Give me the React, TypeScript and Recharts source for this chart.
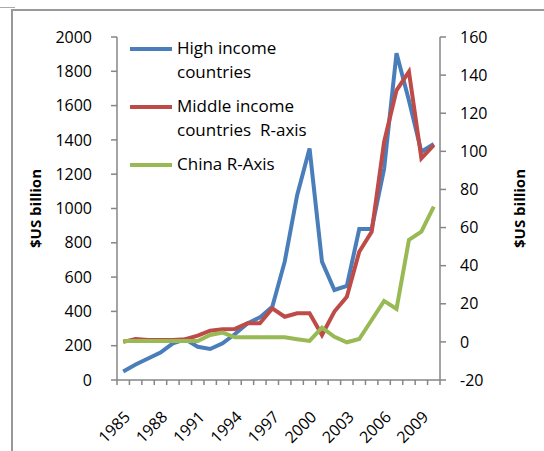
import { LineChart, Line, XAxis, YAxis } from 'recharts'

const years = [1985, 1986, 1987, 1988, 1989, 1990, 1991, 1992, 1993, 1994, 1995, 1996, 1997,
  1998, 1999, 2000, 2001, 2002, 2003, 2004, 2005, 2006, 2007, 2008, 2009, 2010]
const highIncome = [50, 90, 125, 160, 214, 237, 194, 181, 214, 268, 330, 365, 427,
  690, 1078, 1350, 690, 525, 548, 880, 880, 1230, 1905, 1630, 1331, 1376]
const middleIncome = [0, 1.5, 1, 1, 1, 1.4, 3.3, 5.9, 6.6, 6.8, 9.8, 9.8, 17.6,
  13.2, 15, 15, 3.6, 15.9, 23.7, 47.3, 57.8, 105, 132, 141.8, 96.3, 103.3]
const china = [0.5, 0.5, 0.5, 0.5, 0.5, 0.5, 0.5, 3.6, 4.9, 2.4, 2.4, 2.4, 2.4,
  2.4, 1.4, 0.5, 7.5, 2.7, -0.2, 1.5, 11.5, 21.5, 17.3, 53.5, 57.8, 71]
const labelYears = [1985, 1988, 1991, 1994, 1997, 2000, 2003, 2006, 2009]
const leftTicks = [0, 200, 400, 600, 800, 1000, 1200, 1400, 1600, 1800, 2000]
const rightTicks = [-20, 0, 20, 40, 60, 80, 100, 120, 140, 160]
const seriesNames = ['High income\ncountries', 'Middle income\ncountries  R-axis', 'China R-Axis']
const seriesColors = ['#4A7EBB', '#BE4B48', '#98B954']

const data = years.map((year, i) => ({
  year,
  high: highIncome[i],
  middle: middleIncome[i],
  china: china[i],
}))

// tick marks sit between categories, labels on the category centres
const boundaries = [...years.map(y => y - 0.5), years[years.length - 1] + 0.5]
const xTicks = [...boundaries, ...labelYears]

const FONT = '"Open Sans", sans-serif'
const AXIS = '#868686'

// eslint-disable-next-line @typescript-eslint/no-explicit-any
function YearTick({ x, y, payload }: any) {
  const v = payload.value
  if (!Number.isInteger(v)) {
    return <line x1={x} x2={x} y1={y - 8} y2={y - 3} stroke={AXIS} strokeWidth={1.5} />
  }
  const ax = x
  const ay = y + 22
  return (
    <text x={ax} y={ay} dy="0.71em" textAnchor="end" transform={`rotate(-45, ${ax}, ${ay})`}
      fontSize={16} fontFamily={FONT} fill="#000">{v}</text>
  )
}

// eslint-disable-next-line @typescript-eslint/no-explicit-any
function AxisTitle({ viewBox, offsetX }: any) {
  const cx = viewBox.x + offsetX
  const cy = viewBox.y + viewBox.height / 2
  return (
    <text x={cx} y={cy} transform={`rotate(-90, ${cx}, ${cy})`} textAnchor="middle"
      dy="0.35em" fontSize={15} fontWeight="bold" fontFamily={FONT} fill="#000">
      $US billion
    </text>
  )
}

function LegendBox() {
  return (
    <div style={{ position: 'absolute', left: 130, top: 36, fontFamily: FONT, fontSize: 17, color: '#000' }}>
      {seriesNames.map((name, i) => (
        <div key={name} style={{ display: 'flex', alignItems: 'flex-start', marginBottom: 10 }}>
          <div style={{ width: 42, height: 4, background: seriesColors[i], marginTop: 11, marginRight: 5 }} />
          <div style={{ lineHeight: '24px', whiteSpace: 'pre' }}>{name}</div>
        </div>
      ))}
    </div>
  )
}

export default function App() {
  return (
    <div style={{ position: 'absolute', left: 0, top: 0, width: 544, height: 451, background: '#fff', overflow: 'hidden' }}>
      <div style={{ position: 'absolute', left: 0, top: 7, width: 15, height: 1, background: '#aaa' }} />
      <div style={{ position: 'absolute', left: 11, top: 9, right: 0, bottom: 0, borderTop: '2px solid #999', borderLeft: '2px solid #999' }} />
      <LineChart width={544} height={451} data={data} margin={{ top: 37, right: 0, bottom: 0, left: 0 }}
        style={{ position: 'absolute', left: 0, top: 0 }}>
        <XAxis dataKey="year" type="number" domain={[1984.5, 2010.5]} ticks={xTicks} interval={0}
          height={71} tickLine={false} tickSize={6} tickMargin={2} stroke={AXIS} strokeWidth={1.5}
          tick={<YearTick />} />
        <YAxis yAxisId="left" domain={[0, 2000]} ticks={leftTicks} width={117} tickSize={6} tickMargin={19}
          stroke={AXIS} strokeWidth={1.5} tick={{ fontSize: 16, fill: '#000', fontFamily: FONT }}
          label={<AxisTitle offsetX={36} />} />
        <YAxis yAxisId="right" orientation="right" domain={[-20, 160]} ticks={rightTicks} width={104}
          tickSize={6} tickMargin={14} stroke={AXIS} strokeWidth={1.5}
          tick={{ fontSize: 16, fill: '#000', fontFamily: FONT }}
          label={<AxisTitle offsetX={80} />} />
        <Line yAxisId="left" dataKey="high" name={seriesNames[0]} stroke={seriesColors[0]} strokeWidth={4}
          dot={false} isAnimationActive={false} />
        <Line yAxisId="right" dataKey="middle" name={seriesNames[1]} stroke={seriesColors[1]} strokeWidth={4}
          dot={false} isAnimationActive={false} />
        <Line yAxisId="right" dataKey="china" name={seriesNames[2]} stroke={seriesColors[2]} strokeWidth={4}
          dot={false} isAnimationActive={false} />
      </LineChart>
      <LegendBox />
    </div>
  )
}
